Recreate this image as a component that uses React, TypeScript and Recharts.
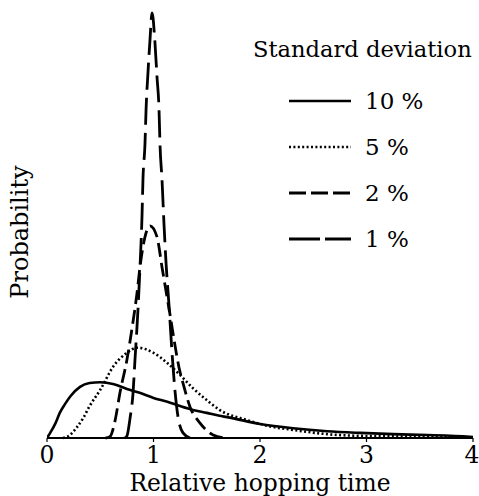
import React from 'react'
import { LineChart, Line, XAxis, YAxis } from 'recharts'

// relative hopping time (x) and probability (arbitrary units, 0-100) per standard deviation
const x10 = [0, 0.03, 0.08, 0.12, 0.17, 0.22, 0.31, 0.4, 0.5, 0.62, 0.75, 0.87, 1.0, 1.13, 1.25, 1.37, 1.5, 1.62, 1.69, 2.0, 2.31, 2.63, 2.94, 3.25, 3.57, 3.97, 4.0]
const y10 = [0, 1.2, 3.5, 5.9, 8, 9.8, 12, 12.9, 13.1, 12.7, 11.5, 10.6, 9.4, 8.5, 7.5, 6.6, 5.9, 5.2, 4.9, 3.3, 2.3, 1.6, 1.2, 0.9, 0.7, 0.3, 0.25]

const x5 = [0.15, 0.19, 0.22, 0.28, 0.34, 0.4, 0.5, 0.62, 0.75, 0.85, 1.0, 1.13, 1.25, 1.37, 1.5, 1.62, 1.88, 2.12, 2.31, 2.63, 2.94, 3.57, 4.0]
const y5 = [0, 0.3, 0.8, 2.5, 4.7, 7.5, 11.3, 16.7, 20, 21.2, 20, 17.6, 14.8, 11.7, 8.9, 6.6, 4.2, 2.6, 1.9, 0.9, 0.5, 0.3, 0.15]

const x2 = [0.55, 0.59, 0.64, 0.685, 0.75, 0.8, 0.845, 0.873, 0.92, 0.967, 1.033, 1.08, 1.127, 1.155, 1.2, 1.24, 1.277, 1.343, 1.437, 1.56, 1.67]
const y2 = [0, 0.3, 4.2, 10.6, 18.3, 26, 34, 40.1, 47.2, 49.8, 47.2, 40.1, 33.1, 29, 22, 16.5, 12.9, 7.3, 3.5, 0.7, 0]

const x1 = [0.73, 0.751, 0.779, 0.808, 0.826, 0.854, 0.873, 0.892, 0.901, 0.92, 0.93, 0.948, 0.967, 0.986, 1.014, 1.033, 1.052, 1.061, 1.08, 1.099, 1.118, 1.146, 1.174, 1.202, 1.23, 1.277, 1.343]
const y1 = [0, 0.5, 4.5, 10.6, 18.3, 30, 40, 52, 60.6, 69, 77, 85.7, 93.4, 99.8, 92.7, 84.7, 77, 69, 60.6, 50, 41, 31, 20, 11, 5, 1.2, 0]

const xTicks = [0, 1, 2, 3, 4]

const series = [
  { name: '10 %', xs: x10, ys: y10, dash: undefined, legendDash: undefined, width: 2.6 },
  { name: '5 %', xs: x5, ys: y5, dash: '2 2.4', legendDash: '2 2.4', width: 2.6 },
  { name: '2 %', xs: x2, ys: y2, dash: '14 6', legendDash: '17 5', width: 2.8 },
  { name: '1 %', xs: x1, ys: y1, dash: '27 8', legendDash: '31 5', width: 2.8 },
]

const FONT = '"DejaVu Serif", "Liberation Serif", serif'

const toRows = (xs: number[], ys: number[]) => xs.map((x, i) => ({ x, y: ys[i] }))

// last label sits against the right edge, as in the original
const XTick = ({ x, y, payload }: any) => {
  const last = payload.value === xTicks[xTicks.length - 1]
  return (
    <text x={last ? x - 1 : x} y={y} dy={17} textAnchor="middle" fontFamily={FONT} fontSize={23.5} fill="#000">
      {payload.value}
    </text>
  )
}

function Overlay() {
  const rows = [101, 147, 193, 239]
  return (
    <svg width={479} height={496} style={{ position: 'absolute', left: 0, top: 0, pointerEvents: 'none' }}>
      <text x={20} y={232} transform="rotate(-90 20 232)" textAnchor="middle" dominantBaseline="central"
        fontFamily={FONT} fontSize={24} fill="#000">
        Probability
      </text>
      <text x={253} y={57} fontFamily={FONT} fontSize={22.6} fill="#000">Standard deviation</text>
      {series.map((s, i) => (
        <g key={s.name}>
          <line x1={289} x2={351} y1={rows[i]} y2={rows[i]} stroke="#000" strokeWidth={s.width}
            strokeDasharray={s.legendDash} />
          <text x={365} y={rows[i] + 8} fontFamily={FONT} fontSize={23} fill="#000">{s.name}</text>
        </g>
      ))}
    </svg>
  )
}

export default function App() {
  return (
    <div style={{ position: 'absolute', left: 0, top: 0, width: 479, height: 496, background: '#fff', fontFamily: FONT }}>
      <LineChart width={479} height={496} margin={{ top: 12, right: 6, bottom: 0, left: 47 }} style={{ fontFamily: FONT }}>
        <XAxis
          dataKey="x"
          type="number"
          domain={[0, 4]}
          ticks={xTicks}
          allowDataOverflow
          height={58}
          tickSize={4}
          tickMargin={4}
          axisLine={{ stroke: '#000', strokeWidth: 2 }}
          tickLine={{ stroke: '#000', strokeWidth: 1.2 }}
          tick={<XTick />}
          interval={0}
          label={{ value: 'Relative hopping time', position: 'insideBottom', offset: 5, fill: '#000', fontSize: 23.4, fontFamily: FONT }}
        />
        <YAxis
          type="number"
          domain={[0, 100]}
          width={0}
          tick={false}
          tickLine={false}
          axisLine={{ stroke: '#000', strokeWidth: 1.6 }}
        />
        {series.map((s) => (
          <Line
            key={s.name}
            data={toRows(s.xs, s.ys)}
            dataKey="y"
            name={s.name}
            type="monotone"
            stroke="#000"
            strokeWidth={s.width}
            strokeDasharray={s.dash}
            dot={false}
            activeDot={false}
            isAnimationActive={false}
          />
        ))}
      </LineChart>
      <Overlay />
    </div>
  )
}
